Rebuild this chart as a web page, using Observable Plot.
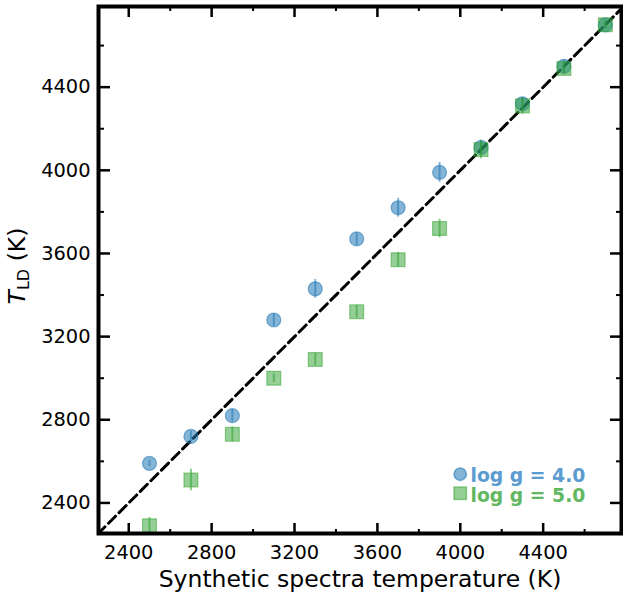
<!DOCTYPE html>
<html><head><meta charset="utf-8">
<script src="https://cdn.jsdelivr.net/npm/d3@7"></script>
<script src="https://cdn.jsdelivr.net/npm/@observablehq/plot@0.6"></script>
<style>
body{margin:0;background:#fff;font-family:"DejaVu Sans",sans-serif}
#wrap{position:relative;width:623px;height:592px}
#ylab{position:absolute;left:18px;top:266px;transform:translate(-50%,-50%) rotate(-90deg);font-size:23.5px;white-space:nowrap;line-height:1;color:#000}
#ylab sub{font-size:68%;vertical-align:-0.25em;line-height:0}
</style></head>
<body><div id="wrap"><div id="ylab"><i>T</i><sub>LD</sub> (K)</div></div>
<script>
const temps = [2500, 2700, 2900, 3100, 3300, 3500, 3700, 3900, 4100, 4300, 4500, 4700];
const tldLogg4 = [2590, 2720, 2820, 3280, 3430, 3670, 3820, 3990, 4110, 4320, 4500, 4700];
const errLogg4 = [15, 25, 30, 30, 45, 30, 45, 48, 30, 30, 30, 20];
const tldLogg5 = [2290, 2510, 2730, 3000, 3090, 3320, 3570, 3720, 4100, 4310, 4490, 4700];
const errLogg5 = [40, 52, 35, 20, 30, 30, 35, 45, 45, 40, 30, 20];
const legendLabels = ["log g = 4.0", "log g = 5.0"];
const majorTicks = [2400, 2800, 3200, 3600, 4000, 4400];
const minorTicks = [2600, 3000, 3400, 3800, 4200, 4600];
const diagonal = [2200, 4800];
const xLabel = "Synthetic spectra temperature (K)";

const blue = "#1f77b4", green = "#2ca02c";
const s4 = temps.map((t, i) => ({t, v: tldLogg4[i], e: errLogg4[i]}));
const s5 = temps.map((t, i) => ({t, v: tldLogg5[i], e: errLogg5[i]}));

const fmt = d => String(d);
// inward ticks: axis anchored on the opposite side, placed on this side of the frame
const inX = (ticks, side, size, sw) => Plot.axisX(ticks, {anchor: side === "bottom" ? "top" : "bottom", frameAnchor: side, tickSize: size, text: null, strokeWidth: sw, label: null});
const inY = (ticks, side, size, sw) => Plot.axisY(ticks, {anchor: side === "left" ? "right" : "left", frameAnchor: side, tickSize: size, text: null, strokeWidth: sw, label: null});

const chart = Plot.plot({
  width: 623, height: 592,
  marginLeft: 98, marginRight: 2, marginTop: 6, marginBottom: 59,
  x: {domain: [2254, 4778], label: null},
  y: {domain: [2253, 4788], label: null},
  style: {fontFamily: "DejaVu Sans", fontSize: "19.4px", color: "#000", background: "#fff"},
  marks: [
    Plot.line(diagonal.map(v => [v, v]), {stroke: "black", strokeWidth: 3, strokeDasharray: "10,5", clip: true}),
    Plot.ruleX(s4, {x: "t", y1: d => d.v - d.e, y2: d => d.v + d.e, stroke: blue, strokeOpacity: 0.55, strokeWidth: 2}),
    Plot.dot(s4, {x: "t", y: "v", r: 7, fill: blue, fillOpacity: 0.55, stroke: blue, strokeOpacity: 0.55, strokeWidth: 1.2}),
    Plot.ruleX(s5, {x: "t", y1: d => d.v - d.e, y2: d => d.v + d.e, stroke: green, strokeOpacity: 0.55, strokeWidth: 2}),
    Plot.dot(s5, {x: "t", y: "v", symbol: "square", r: 7.8, fill: green, fillOpacity: 0.5, stroke: green, strokeOpacity: 0.5, strokeWidth: 1.2}),
    // inward ticks on all four sides
    inX(majorTicks, "bottom", 11, 2.5), inX(majorTicks, "top", 11, 2.5),
    inX(minorTicks, "bottom", 5, 2), inX(minorTicks, "top", 5, 2),
    inY(majorTicks, "left", 11, 2.5), inY(majorTicks, "right", 11, 2.5),
    inY(minorTicks, "left", 5, 2), inY(minorTicks, "right", 5, 2),
    // tick labels
    Plot.axisX(majorTicks, {anchor: "bottom", tickSize: 0, tickPadding: 11.5, tickFormat: fmt, label: null, fontSize: 19.4}),
    Plot.axisY(majorTicks, {anchor: "left", tickSize: 0, tickPadding: 8, tickFormat: fmt, label: null, fontSize: 19.4}),
    Plot.text([xLabel], {frameAnchor: "bottom", dy: 46, lineAnchor: "middle", fontSize: 23.5, fill: "black"}),
    // legend
    Plot.dot([0], {frameAnchor: "bottom-right", dx: -161.3, dy: -59.3, r: 6.2, fill: blue, fillOpacity: 0.55, stroke: blue, strokeOpacity: 0.55}),
    Plot.dot([0], {frameAnchor: "bottom-right", dx: -161.3, dy: -40.2, symbol: "square", r: 7, fill: green, fillOpacity: 0.5, stroke: green, strokeOpacity: 0.5}),
    Plot.text([legendLabels[0]], {frameAnchor: "bottom-right", dx: -151, dy: -52, lineAnchor: "bottom", textAnchor: "start", fontWeight: "bold", fontSize: 18.8, fill: "#5b9bd0"}),
    Plot.text([legendLabels[1]], {frameAnchor: "bottom-right", dx: -151, dy: -31.5, lineAnchor: "bottom", textAnchor: "start", fontWeight: "bold", fontSize: 18.8, fill: "#62b862"}),
    Plot.frame({stroke: "black", strokeWidth: 4})
  ]
});
document.getElementById("wrap").prepend(chart);
</script>
</body></html>
